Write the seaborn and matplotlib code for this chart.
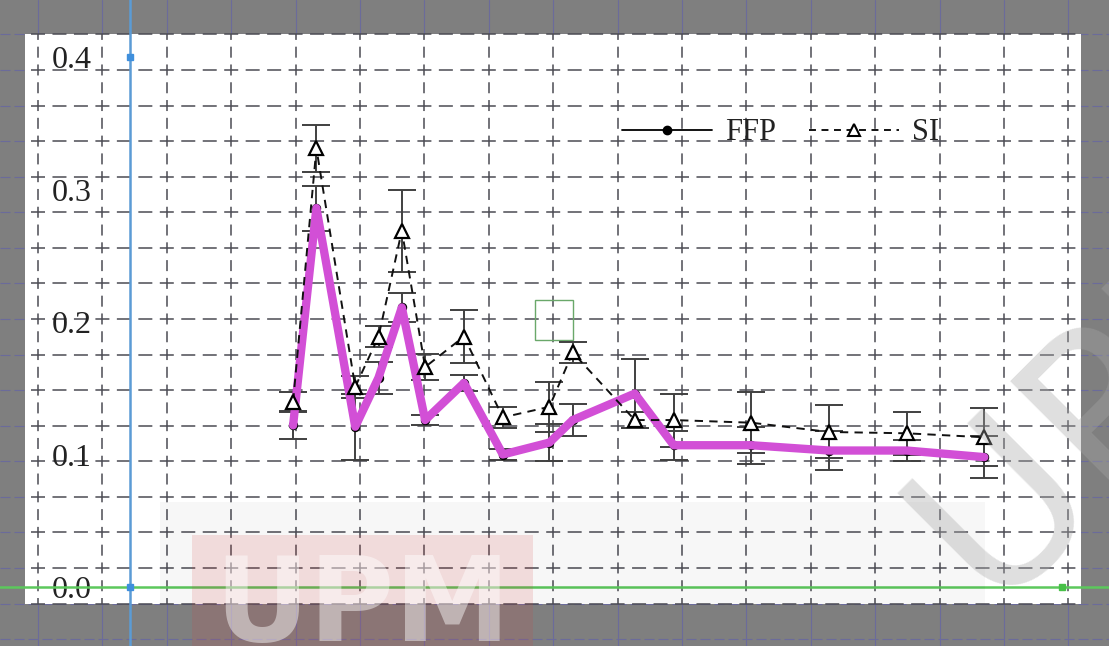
import numpy as np
import matplotlib
matplotlib.use("Agg")
import matplotlib.pyplot as plt
from matplotlib.lines import Line2D
from matplotlib.patches import Rectangle
import seaborn as sns

# ---- data -------------------------------------------------------------
time_min = [21, 24, 29, 32, 35, 38, 43, 48, 54, 57, 65, 70, 80, 90, 100, 110]
ffp = [0.122, 0.286, 0.121, 0.158, 0.211, 0.126, 0.154, 0.100,
       0.109, 0.126, 0.146, 0.107, 0.107, 0.103, 0.103, 0.098]
ffp_err = [0.010, 0.017, 0.025, 0.012, 0.011, 0.004, 0.006, 0.004,
           0.014, 0.012, 0.026, 0.011, 0.014, 0.015, 0.008, 0.016]
si = [0.140, 0.331, 0.151, 0.189, 0.269, 0.166, 0.189, 0.128,
      0.136, 0.177, 0.126, 0.126, 0.124, 0.117, 0.116, 0.113]
si_err = [0.007, 0.018, 0.008, 0.008, 0.031, 0.010, 0.020, 0.008,
          0.019, 0.008, 0.006, 0.020, 0.023, 0.020, 0.016, 0.022]
y_ticks = [0.0, 0.1, 0.2, 0.3, 0.4]
y_tick_labels = ["0.0", "0.1", "0.2", "0.3", "0.4"]
x_ticks = [20, 40, 60, 80, 100]
series_labels = ["FFP", "SI"]

# ---- figure -----------------------------------------------------------
W, H = 1109, 646
PT = 0.72  # points per pixel at 100 dpi

sns.set_theme(style="white")
plt.rcParams["font.family"] = ["Liberation Serif", "DejaVu Serif"]
plt.rcParams["lines.scale_dashes"] = False

fig = plt.figure(figsize=(W / 100, H / 100), dpi=100)
fig.patch.set_facecolor("#7f7f7f")

# background layer in pixel units: page, canvas and measuring grid
bg = fig.add_axes([0, 0, 1, 1], zorder=0)
bg.set_xlim(0, W)
bg.set_ylim(H, 0)
bg.axis("off")

gx = 38 + 64.4 * np.arange(17)
gy = 34.4 + 35.57 * np.arange(18)
for x in gx:
    bg.plot([x, x], [0, H], color="#6b6b9b", lw=0.8, zorder=0.5)
for y in gy:
    bg.plot([0, W], [y, y], color="#6b6b9b", lw=0.8, zorder=0.5,
            ls=(0, (10 * PT, 4 * PT)))

L, R, T, B = 25, 1081, 34, 604
bg.add_patch(Rectangle((L, T), R - L, B - T, facecolor="white",
                       edgecolor="none", zorder=1))

hp = 64.4 / 3
for y in gy[:17]:
    bg.plot([L, R], [y, y], color="#4c4c54", lw=1.1,
            ls=((hp - 6) * PT, (14 * PT, (hp - 14) * PT)), zorder=2)
vp = 35.57 / 2
for x in gx:
    bg.plot([x, x], [T, B], color="#4c4c54", lw=1.1,
            ls=(5.1 * PT, (11 * PT, (vp - 11) * PT)), zorder=2)

bg.add_patch(Rectangle((535, 300), 38, 40, fill=False,
                       edgecolor="#6aa86a", lw=1.0, zorder=3))

# ---- chart layer ------------------------------------------------------
ax = fig.add_axes([0, 0, 1, 1], zorder=1)
ax.patch.set_visible(False)
px_per_min = (1062 - 130) / 120
px_per_unit = 1325.0
ax.set_xlim(-130 / px_per_min, (W - 130) / px_per_min)
ax.set_ylim(-(H - 587) / px_per_unit, 587 / px_per_unit)

for side in ("top", "right"):
    ax.spines[side].set_visible(False)
ax.spines["left"].set_position(("data", 0))
ax.spines["left"].set_color("#5b9bd5")
ax.spines["left"].set_linewidth(1.8)
ax.spines["bottom"].set_position(("data", 0))
ax.spines["bottom"].set_color("#5cc85c")
ax.spines["bottom"].set_linewidth(1.8)

ax.errorbar(time_min, ffp, yerr=ffp_err, fmt="none", ecolor="#404040",
            elinewidth=1.4, capsize=10, capthick=1.4, zorder=3)
ax.errorbar(time_min, si, yerr=si_err, fmt="none", ecolor="#404040",
            elinewidth=1.4, capsize=10, capthick=1.4, zorder=3)

sns.lineplot(x=time_min, y=ffp, ax=ax, color="black", linewidth=1.2,
             marker="o", markersize=6, markeredgecolor="black", zorder=3.5)
sns.lineplot(x=time_min, y=ffp, ax=ax, color="#d24fd6", linewidth=6,
             solid_joinstyle="round", solid_capstyle="round", zorder=4)
sns.lineplot(x=time_min, y=si, ax=ax, color="#111111", linewidth=1.4,
             linestyle=(0, (6, 4.5)), marker="^", markersize=10,
             markerfacecolor="white", markeredgecolor="black",
             markeredgewidth=1.6, zorder=6)

# calibration marks on the axes
ax.plot([0, 0], [y_ticks[-1], y_ticks[0]], "s", color="#3f8fdc",
        markersize=5, zorder=7)
ax.plot([120], [0], "s", color="#48c048", markersize=5, zorder=7)

ax.set_yticks(y_ticks, y_tick_labels)
ax.tick_params(axis="y", direction="in", length=4, width=1,
               color="#8a8a8a", pad=38 * PT, labelsize=23,
               labelcolor="#222222")
ax.set_xticks(x_ticks)
ax.tick_params(axis="x", direction="in", length=5, width=1,
               color="#a0a0a0", labelbottom=False)
ax.set_xlabel("")
ax.set_ylabel("")
ax.grid(False)

handles = [
    Line2D([], [], color="black", lw=1.3, marker="o", markersize=6),
    Line2D([], [], color="black", lw=1.3, ls=(0, (5, 4)), marker="^",
           markersize=8, markerfacecolor="white", markeredgewidth=1.5),
]
leg = ax.legend(handles, series_labels, loc="center left",
                bbox_to_anchor=(622 / W, 1 - 133 / H),
                bbox_transform=fig.transFigure, ncol=2, frameon=False,
                fontsize=22, handlelength=2.94, handletextpad=0.42,
                columnspacing=1.1, borderpad=0, borderaxespad=0)
for t in leg.get_texts():
    t.set_color("#222222")

# ---- overlay stamps ---------------------------------------------------
wm = fig.add_axes([0, 0, 1, 1], zorder=2)
wm.set_xlim(0, W)
wm.set_ylim(H, 0)
wm.axis("off")
wm.patch.set_visible(False)

wm.add_patch(Rectangle((160, 502), 825, 102, facecolor="black",
                       alpha=0.03, edgecolor="none"))
wm.add_patch(Rectangle((192, 535), 341, 111, facecolor="#d04040",
                       alpha=0.15, edgecolor="none"))
wm.text(362, 641, "UPM", ha="center", va="baseline", fontsize=84,
        fontweight="bold", color="white", alpha=0.45, family="DejaVu Sans")
wm.text(1115, 395, "UPM", ha="center", va="center", rotation=45,
        rotation_mode="anchor", fontsize=155, color="#a7a7a7", alpha=0.36,
        family="DejaVu Sans")

fig.savefig("out.png", dpi=100, facecolor=fig.get_facecolor())
